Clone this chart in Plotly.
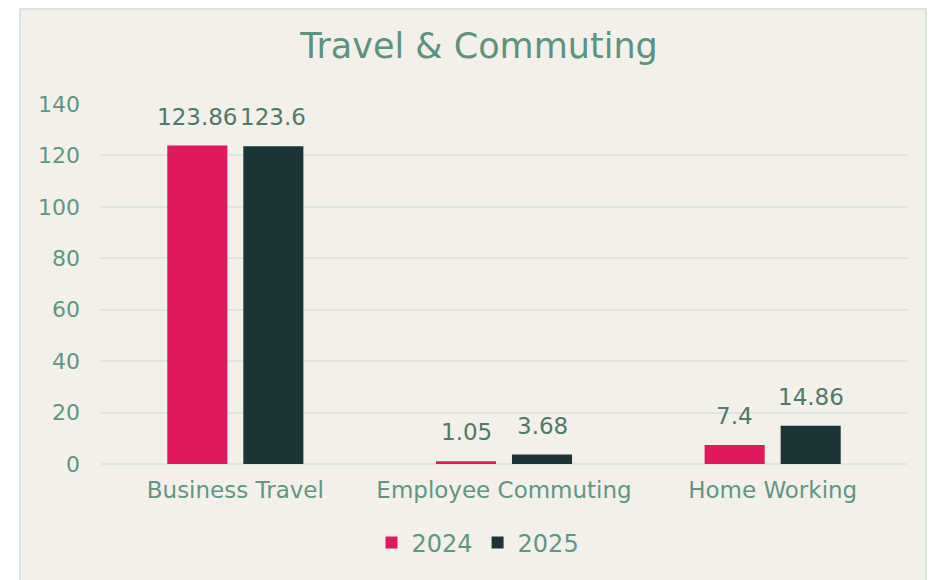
import plotly.graph_objects as go

categories = ["Business Travel", "Employee Commuting", "Home Working"]
series_names = ["2024", "2025"]
values_2024 = [123.86, 1.05, 7.4]
values_2025 = [123.6, 3.68, 14.86]
y_ticks = [0, 20, 40, 60, 80, 100, 120, 140]

PINK = "#E0185E"
DARK = "#1B3536"
TICK = "#5E9784"
LABEL = "#4D7A6B"
TITLE = "#5B937F"
GRID = "#DCE7E3"
PANEL = "#F3F0EA"
FONT = "DejaVu Sans"

# page body has an 8px margin: lay out in figure coordinates offset by 8px
OFF = 8
W, H = 936 - OFF, 580 - OFF
L, T = 101 - OFF, 104 - OFF
pw, ph = 806, 360
R, B = W - L - pw, H - T - ph


def px(x):  # screen x -> paper
    return (x - OFF - L) / pw


def py(y):  # screen y -> paper
    return (T + ph - (y - OFF)) / ph


fig = go.Figure()
for name, vals, col in [(series_names[0], values_2024, PINK), (series_names[1], values_2025, DARK)]:
    fig.add_trace(go.Bar(name=name, x=categories, y=vals, marker=dict(color=col, line=dict(width=0))))

# value labels
for vals, shift in [(values_2024, -38), (values_2025, 38)]:
    for c, v in zip(categories, vals):
        fig.add_annotation(x=c, y=v, xref="x", yref="y", text=str(v), showarrow=False,
                           xshift=shift, yshift=29, yanchor="middle",
                           font=dict(family=FONT, size=23, color=LABEL))

fig.add_shape(type="rect", xref="paper", yref="paper", layer="below",
              x0=px(20), x1=px(926), y0=py(600), y1=py(9),
              fillcolor=PANEL, line=dict(color="#D6E4E0", width=2))

fig.update_layout(
    width=W, height=H,
    margin=dict(l=L, r=R, t=T, b=B, autoexpand=False),
    paper_bgcolor="white", plot_bgcolor="rgba(0,0,0,0)",
    barmode="group", bargap=0.434, bargroupgap=0.21,
    title=dict(text="Travel & Commuting", x=px(479), xref="paper", xanchor="center",
               y=1 - (46 - OFF) / H, yref="container", yanchor="middle",
               font=dict(family=FONT, size=35, color=TITLE)),
    font=dict(family=FONT, color=TICK),
    showlegend=True,
    legend=dict(orientation="h", x=px(478), xanchor="center", y=py(543), yanchor="middle",
                font=dict(family=FONT, size=24, color=TICK), bgcolor="rgba(0,0,0,0)",
                itemwidth=30, tracegroupgap=0, itemsizing="constant"),
)
fig.update_yaxes(range=[0, 140], tickvals=y_ticks, showgrid=True, gridcolor=GRID, gridwidth=2,
                 zeroline=True, zerolinecolor=GRID, zerolinewidth=2, showline=False,
                 automargin=False,
                 tickfont=dict(family=FONT, size=22, color=TICK), ticklabelstandoff=20)
fig.update_xaxes(showgrid=False, showline=False, automargin=False,
                 tickfont=dict(family=FONT, size=23, color=TICK), ticklabelstandoff=10)

fig.write_html("out.html")
